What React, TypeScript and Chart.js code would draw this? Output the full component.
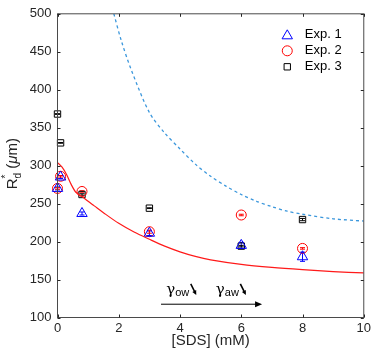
import React, { useEffect, useRef } from 'react';
import { Chart, registerables } from 'chart.js';

Chart.register(...registerables);

// ---- data ----
const sdsConc = [0, 0.1, 0.8, 3, 6, 8];
const exp1Rd = [270, 285, 237, 211, 195, 180];
const exp2Rd = [270, 286, 266, 213, 235, 191];
const exp3Rd = [368, 330, 262, 244, 194, 229];
const exp1Err = [2, 2, 2, 3, 4, 6];
const exp2Err = [1, 1, 1, 2, 1, 1];
const exp3Err = [0.5, 0.5, 1, 0.5, 1, 1.5];

const modelSds = [0, 0.15, 0.3, 0.45, 0.6, 0.8, 1.0, 1.2, 1.5, 2, 2.5, 3, 3.5, 4, 4.5, 5, 6, 7, 8, 9, 10];
const modelRd = [304, 298, 288, 275, 265, 259.5, 253, 247, 238, 224, 212.5, 203, 194, 186.5, 180.5, 176, 170, 166, 163, 160.5, 158.7];

const upperSds = [1.84, 2.08, 2.41, 3, 3.5, 4, 4.5, 5, 5.5, 6, 6.5, 7, 7.5, 8, 9, 10];
const upperRd = [500, 465, 426, 370, 343, 322, 302, 286, 273, 262, 253, 246, 240, 236, 230, 227];

const xTickValues = [0, 2, 4, 6, 8, 10];
const yTickValues = [100, 150, 200, 250, 300, 350, 400, 450, 500];

const seriesNames = ['Exp. 1', 'Exp. 2', 'Exp. 3'];
const xTitle = '[SDS] (mM)';

// annotation (data coordinates)
const arrowFrom = [3.38, 117.5];
const arrowTo = [6.68, 117.5];
const gammaLabels = [
  { x: 3.55, y: 131, sub: 'ow' },
  { x: 5.17, y: 131, sub: 'aw' },
];

const FONT = '"Liberation Sans", Arial, Helvetica, sans-serif';
const INK = '#262626';

type Style = 'triangle' | 'circle' | 'rect';

function drawMarker(ctx: CanvasRenderingContext2D, style: Style, x: number, y: number, r: number, color: string) {
  ctx.save();
  ctx.strokeStyle = color;
  ctx.lineWidth = 1;
  ctx.beginPath();
  if (style === 'triangle') {
    for (let k = 0; k < 3; k++) {
      const a = (k * 2 * Math.PI) / 3;
      const px = x + Math.sin(a) * r;
      const py = y - Math.cos(a) * r;
      if (k === 0) ctx.moveTo(px, py);
      else ctx.lineTo(px, py);
    }
    ctx.closePath();
  } else if (style === 'circle') {
    ctx.arc(x, y, r, 0, Math.PI * 2);
  } else {
    const s = r * Math.SQRT1_2;
    ctx.rect(x - s, y - s, 2 * s, 2 * s);
  }
  ctx.stroke();
  ctx.restore();
}

const seriesStyles: { style: Style; color: string; r: number; vals: number[]; err: number[] }[] = [
  { style: 'triangle', color: '#0000ff', r: 6, vals: exp1Rd, err: exp1Err },
  { style: 'circle', color: '#ff0000', r: 5, vals: exp2Rd, err: exp2Err },
  { style: 'rect', color: '#000000', r: 4.5, vals: exp3Rd, err: exp3Err },
];

const overlayPlugin = {
  id: 'overlay',
  beforeDatasetsDraw(chart: any) {
    const { ctx, scales } = chart;
    const xs = scales.x;
    const ys = scales.y;
    ctx.save();
    ctx.lineWidth = 1;
    seriesStyles.forEach((s) => {
      ctx.strokeStyle = s.color;
      s.vals.forEach((v, i) => {
        const px = xs.getPixelForValue(sdsConc[i]);
        const y1 = ys.getPixelForValue(v - s.err[i]);
        const y2 = ys.getPixelForValue(v + s.err[i]);
        ctx.beginPath();
        ctx.moveTo(px, y1);
        ctx.lineTo(px, y2);
        ctx.moveTo(px - 2.5, y1);
        ctx.lineTo(px + 2.5, y1);
        ctx.moveTo(px - 2.5, y2);
        ctx.lineTo(px + 2.5, y2);
        ctx.stroke();
      });
    });
    ctx.restore();
  },
  afterDraw(chart: any) {
    const { ctx, chartArea: a, scales } = chart;
    const xs = scales.x;
    const ys = scales.y;
    ctx.save();
    // frame
    ctx.strokeStyle = '#4a4a4a';
    ctx.lineWidth = 1;
    ctx.strokeRect(a.left, a.top, a.right - a.left, a.bottom - a.top);
    // inward ticks on all sides
    ctx.strokeStyle = INK;
    ctx.beginPath();
    const tl = 3;
    xTickValues.forEach((v) => {
      const px = Math.round(xs.getPixelForValue(v)) + 0.5;
      ctx.moveTo(px, a.bottom);
      ctx.lineTo(px, a.bottom - tl);
      ctx.moveTo(px, a.top);
      ctx.lineTo(px, a.top + tl);
    });
    yTickValues.forEach((v) => {
      const py = Math.round(ys.getPixelForValue(v)) + 0.5;
      ctx.moveTo(a.left, py);
      ctx.lineTo(a.left + tl, py);
      ctx.moveTo(a.right, py);
      ctx.lineTo(a.right - tl, py);
    });
    ctx.stroke();

    // x title
    ctx.fillStyle = INK;
    ctx.font = `15px ${FONT}`;
    ctx.textAlign = 'center';
    ctx.textBaseline = 'alphabetic';
    ctx.fillText(xTitle, (a.left + a.right) / 2, 345);

    // y title: R*_d (μm)
    ctx.save();
    const cy = (a.top + a.bottom) / 2 - 2;
    ctx.translate(17, cy);
    ctx.rotate(-Math.PI / 2);
    ctx.textAlign = 'left';
    const big = `15px ${FONT}`;
    const small = `10px ${FONT}`;
    const ital = `italic 15px ${FONT}`;
    ctx.font = big;
    const wR = ctx.measureText('R').width;
    ctx.font = small;
    const wSub = Math.max(ctx.measureText('d').width, ctx.measureText('*').width);
    ctx.font = big;
    const wOpen = ctx.measureText(' (').width;
    ctx.font = ital;
    const wMu = ctx.measureText('μ').width;
    ctx.font = big;
    const wRest = ctx.measureText('m)').width;
    const total = wR + wSub + wOpen + wMu + wRest;
    let xx = -total / 2;
    ctx.font = big;
    ctx.fillText('R', xx, 0);
    xx += wR;
    ctx.font = small;
    ctx.fillText('*', xx, -8);
    ctx.fillText('d', xx, 3.5);
    xx += wSub;
    ctx.font = big;
    ctx.fillText(' (', xx, 0);
    xx += wOpen;
    ctx.font = ital;
    ctx.fillText('μ', xx, 0);
    xx += wMu;
    ctx.font = big;
    ctx.fillText('m)', xx, 0);
    ctx.restore();

    // legend
    const lx = a.right - 76.5;
    const tx = a.right - 59;
    const rows = [a.top + 20.5, a.top + 37, a.top + 53];
    ctx.font = `13px ${FONT}`;
    ctx.textAlign = 'left';
    ctx.textBaseline = 'middle';
    seriesStyles.forEach((s, i) => {
      drawMarker(ctx, s.style, lx, rows[i] + (s.style === 'triangle' ? 1.5 : 0), s.r, s.color);
      ctx.fillStyle = '#000';
      ctx.fillText(seriesNames[i], tx, rows[i]);
    });

    // annotation arrow
    const ax1 = xs.getPixelForValue(arrowFrom[0]);
    const ax2 = xs.getPixelForValue(arrowTo[0]);
    const ay = ys.getPixelForValue(arrowFrom[1]);
    ctx.strokeStyle = '#000';
    ctx.fillStyle = '#000';
    ctx.lineWidth = 1;
    ctx.beginPath();
    ctx.moveTo(ax1, ay);
    ctx.lineTo(ax2 - 5, ay);
    ctx.stroke();
    ctx.beginPath();
    ctx.moveTo(ax2, ay);
    ctx.lineTo(ax2 - 7, ay - 3);
    ctx.lineTo(ax2 - 7, ay + 3);
    ctx.closePath();
    ctx.fill();

    // gamma labels
    gammaLabels.forEach((g) => {
      const gx = xs.getPixelForValue(g.x);
      const gy = ys.getPixelForValue(g.y);
      ctx.textBaseline = 'alphabetic';
      ctx.textAlign = 'left';
      ctx.font = `15px "DejaVu Serif", serif`;
      ctx.fillStyle = '#000';
      ctx.fillText('γ', gx, gy);
      const wg = ctx.measureText('γ').width;
      ctx.font = `11px ${FONT}`;
      ctx.fillText(g.sub, gx + wg, gy + 2.5);
      const ws = ctx.measureText(g.sub).width;
      // small diagonal arrow
      const sx = gx + wg + ws + 1.5;
      const sy = gy - 10;
      const ex = sx + 5.5;
      const ey = gy + 1;
      ctx.lineWidth = 1.6;
      ctx.beginPath();
      ctx.moveTo(sx, sy);
      ctx.lineTo(ex - 1, ey - 2);
      ctx.stroke();
      const ang = Math.atan2(ey - sy, ex - sx);
      ctx.beginPath();
      ctx.moveTo(ex, ey);
      ctx.lineTo(ex - 5 * Math.cos(ang - 0.45), ey - 5 * Math.sin(ang - 0.45));
      ctx.lineTo(ex - 5 * Math.cos(ang + 0.45), ey - 5 * Math.sin(ang + 0.45));
      ctx.closePath();
      ctx.fill();
      ctx.lineWidth = 1;
    });
    ctx.restore();
  },
};

export default function App() {
  const canvasRef = useRef<HTMLCanvasElement | null>(null);

  useEffect(() => {
    const canvas = canvasRef.current;
    if (!canvas) return;
    const toPts = (xs: number[], ys: number[]) => xs.map((x, i) => ({ x, y: ys[i] }));
    const chart = new Chart(canvas, {
      type: 'scatter',
      data: {
        datasets: [
          {
            label: 'model',
            data: toPts(modelSds, modelRd),
            showLine: true,
            borderColor: '#ff1a1a',
            borderWidth: 1.2,
            pointRadius: 0,
            tension: 0.3,
          } as any,
          {
            label: 'upper',
            data: toPts(upperSds, upperRd),
            showLine: true,
            borderColor: '#3b97dc',
            borderWidth: 1.3,
            borderDash: [3, 3],
            pointRadius: 0,
            tension: 0.3,
          } as any,
          ...seriesStyles.map((s, i) => ({
            label: seriesNames[i],
            data: toPts(sdsConc, s.vals),
            pointStyle: s.style,
            pointRadius: s.r,
            pointBorderColor: s.color,
            pointBackgroundColor: 'rgba(0,0,0,0)',
            pointBorderWidth: 1,
            showLine: false,
            clip: false,
          })) as any,
        ],
      },
      options: {
        animation: false,
        responsive: false,
        events: [],
        layout: { padding: { top: 9.5, right: 8.5, left: 0, bottom: 0 } },
        plugins: { legend: { display: false }, tooltip: { enabled: false } },
        scales: {
          x: {
            type: 'linear',
            min: 0,
            max: 10,
            afterBuildTicks: (s: any) => {
              s.ticks = xTickValues.map((v) => ({ value: v }));
            },
            afterFit: (s: any) => {
              s.height = 36.5;
            },
            grid: { display: false, drawTicks: false },
            border: { display: false },
            ticks: {
              font: { family: FONT, size: 13 },
              color: INK,
              padding: 3,
              maxRotation: 0,
            },
          },
          y: {
            type: 'linear',
            min: 100,
            max: 500,
            afterBuildTicks: (s: any) => {
              s.ticks = yTickValues.map((v) => ({ value: v }));
            },
            afterFit: (s: any) => {
              s.width = 57.5;
            },
            grid: { display: false, drawTicks: false },
            border: { display: false },
            ticks: {
              font: { family: FONT, size: 13 },
              color: INK,
              padding: 6,
            },
          },
        },
      },
      plugins: [overlayPlugin],
    });
    return () => chart.destroy();
  }, []);

  return (
    <div style={{ position: 'absolute', left: 0, top: 0, width: 374, height: 354, background: '#fff' }}>
      <canvas ref={canvasRef} width={374} height={354} style={{ display: 'block', width: 374, height: 354 }} />
    </div>
  );
}
